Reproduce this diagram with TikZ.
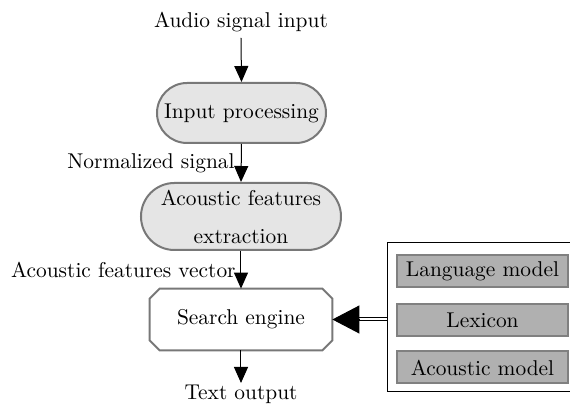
\documentclass[tikz,border=0pt]{standalone}
\usetikzlibrary{arrows.meta}
\begin{document}
\begin{tikzpicture}[x=0.5pt,y=-0.5pt,
  every node/.style={font=\fontsize{10.7}{12.8}\selectfont, inner sep=0pt},
  flow/.style={line width=0.5pt, -{Triangle[length=8pt,width=7pt]}},
  stadium/.style={draw=black!53, line width=1pt, fill=black!10},
  modelbox/.style={draw=black!50, line width=1pt, fill=black!31, minimum width=85.5pt, minimum height=16pt},
  lbl/.style={anchor=east}
]
\useasboundingbox (0,0) rectangle (570,405);
\clip (0,0) rectangle (570,405);
\node (in) at (241,22) {Audio signal input};
\node (ip) [stadium, rounded corners=15pt, minimum width=84.5pt, minimum height=30pt] at (241.5,113) {Input processing};
\node (af) [stadium, rounded corners=16.7pt, minimum width=100pt, minimum height=33.5pt, align=center, font=\fontsize{10.7}{19}\selectfont] at (241,216.5) {Acoustic features\\extraction};
\node (se) [minimum width=91pt, minimum height=30.5pt] at (241,319.5) {Search engine};
\draw[draw=black!53, line width=1pt, fill=white]
  ([xshift=5pt]se.north west) -- ([xshift=-5pt]se.north east) -- ([yshift=-5pt]se.north east)
  -- ([yshift=5pt]se.south east) -- ([xshift=-5pt]se.south east) -- ([xshift=5pt]se.south west)
  -- ([yshift=5pt]se.south west) -- ([yshift=-5pt]se.north west) -- cycle;
\node at (se) {Search engine};
\node (out) at (241,394) {Text output};
\coordinate (inA) at (241,38);
\coordinate (outA) at (241,383);
\draw[flow] (inA) -- (ip.north);
\draw[flow] (ip.south) -- (af.north);
\draw[flow] (af.south) -- (se.north);
\draw[flow] (se.south) -- (outA);
\node[lbl] (l1) at (235,163) {Normalized signal};
\node[lbl] (l2) at (236,270) {Acoustic features vector};
\node (models) [draw=black, line width=0.5pt, minimum width=100pt, minimum height=74.5pt] at (488,317.5) {};
\node (lm) [modelbox] at (482.5,271) {Language model};
\node (lx) [modelbox] at (482.5,320.5) {Lexicon};
\node (am) [modelbox] at (482.5,367.5) {Acoustic model};
\coordinate (hb) at ([xshift=13.5pt]se.east);
\draw[line width=0.5pt, double, double distance=1pt] (models.west |- se) -- (hb);
\draw[line width=0.5pt, -{Triangle[length=13.5pt,width=14pt]}] (hb) -- (se.east);
\end{tikzpicture}
\end{document}
